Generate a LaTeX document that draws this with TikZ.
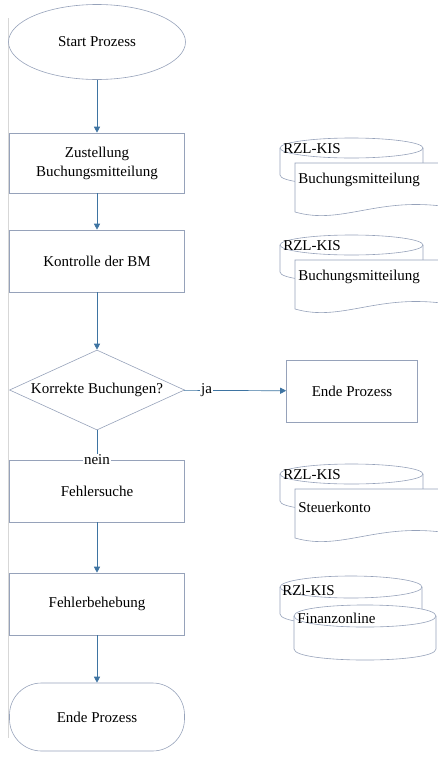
\documentclass[tikz,border=0pt]{standalone}
\usepackage{fontspec}
\setmainfont{Liberation Serif}
\usetikzlibrary{shapes.geometric,arrows.meta}
\definecolor{shapeline}{RGB}{150,162,186}
\definecolor{flowblue}{RGB}{62,116,162}
\definecolor{sideline}{RGB}{215,215,215}

\begin{document}
\begin{tikzpicture}[x=1pt,y=-1pt,font=\fontsize{15}{19}\selectfont]
    \useasboundingbox (0,0) rectangle (437,758);
    \draw[sideline] (8,18) -- (8,738);

        \begin{scope}[every node/.style={draw=shapeline,line width=0.6pt,minimum width=175pt,align=center}]
            \node[ellipse,minimum width=177pt,minimum height=75pt] (start) at (97,42) {Start Prozess};
            \node[rectangle,minimum height=60pt] (zust) at (97,163) {Zustellung\\Buchungsmitteilung};
            \node[rectangle,minimum height=62pt] (kontr) at (97,261) {Kontrolle der BM};
            \node[diamond,minimum height=80pt] (korr) at (97,390) {};
            \node[rectangle,minimum width=131pt,minimum height=62pt] (ende1) at (352,391) {Ende Prozess};
            \node[rectangle,minimum height=62pt] (fehl) at (97,491) {Fehlersuche};
            \node[rectangle,minimum height=62pt] (fbeh) at (97,604) {Fehlerbehebung};
            \node[rectangle,rounded corners=32pt,minimum height=68pt] (ende2) at (97,717) {Ende Prozess};
        \end{scope}
        \node (korrtext) at (korr) {Korrekte Buchungen?};

        \begin{scope}[every node/.style={fill=white,inner sep=1pt}, every edge/.style={draw=flowblue,line width=0.7pt}, >={Triangle[length=6pt,width=6pt]}]
            \path [->] (start) edge (zust);
            \path [->] (zust) edge (kontr);
            \path [->] (kontr) edge (korr);
            \path [->] (korr) edge node[pos=0.22] {ja} (ende1);
            \path (korr) edge node[pos=1] {nein} (fehl);
            \path [->] (fehl) edge (fbeh);
            \path [->] (fbeh) edge (ende2);
        \end{scope}

        % Datenquellen
        \begin{scope}[shapeline,line width=0.6pt,every node/.style={black,anchor=west,inner sep=0pt}]
            \draw (280,148) -- (280,175) .. controls (280,188.3) and (423,188.3) .. (423,175) -- (423,148);
            \draw (351.5,148) ellipse [x radius=71.5,y radius=10];
            \draw[fill=white] (295,163) -- (441,163) -- (441,206) .. controls (375,198) and (340,225) .. (295,212) -- cycle;
            \node (db1a) at (283,149) {RZL-KIS};
            \node (db1b) at (298,180) {Buchungsmitteilung};
        \end{scope}
        \begin{scope}[shift={(0,97)},shapeline,line width=0.6pt,every node/.style={black,anchor=west,inner sep=0pt}]
            \draw (280,148) -- (280,175) .. controls (280,188.3) and (423,188.3) .. (423,175) -- (423,148);
            \draw (351.5,148) ellipse [x radius=71.5,y radius=10];
            \draw[fill=white] (295,163) -- (441,163) -- (441,206) .. controls (375,198) and (340,225) .. (295,212) -- cycle;
            \node (db2a) at (283,149) {RZL-KIS};
            \node (db2b) at (298,180) {Buchungsmitteilung};
        \end{scope}
        \begin{scope}[shift={(0,326)},shapeline,line width=0.6pt,every node/.style={black,anchor=west,inner sep=0pt}]
            \draw (280,148) -- (280,175) .. controls (280,188.3) and (423,188.3) .. (423,175) -- (423,148);
            \draw (351.5,148) ellipse [x radius=71.5,y radius=10];
            \draw[fill=white] (295,163) -- (441,163) -- (441,206) .. controls (375,198) and (340,225) .. (295,212) -- cycle;
            \node (db3a) at (283,149) {RZL-KIS};
            \node (db3b) at (298,181) {Steuerkonto};
        \end{scope}
        \begin{scope}[shapeline,line width=0.6pt,every node/.style={black,anchor=west,inner sep=0pt}]
            \draw (280,587) -- (280,614) .. controls (280,628.7) and (422,628.7) .. (422,614) -- (422,587);
            \draw (351,587) ellipse [x radius=71,y radius=11];
            \draw[fill=white] (294,616) -- (294,649) .. controls (294,663.7) and (436,663.7) .. (436,649) -- (436,616) .. controls (436,601.3) and (294,601.3) .. (294,616) -- cycle;
            \draw (294,616) .. controls (294,630.7) and (436,630.7) .. (436,616);
            \node (db4a) at (282,590) {RZl-KIS};
            \node (db4b) at (297,618) {Finanzonline};
        \end{scope}

    \end{tikzpicture}
\end{document}
